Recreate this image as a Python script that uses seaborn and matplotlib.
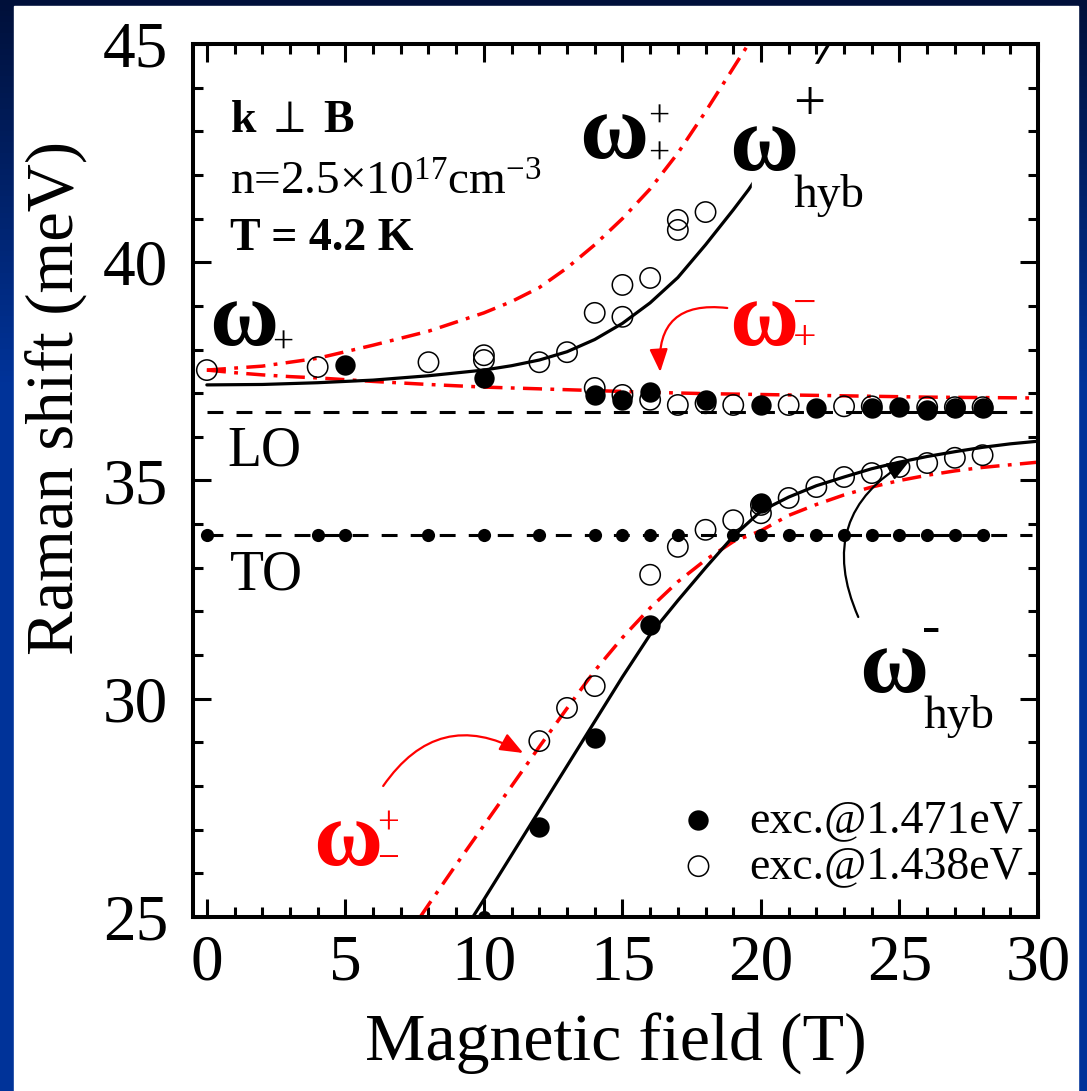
import numpy as np
import matplotlib
matplotlib.use('Agg')
import matplotlib.pyplot as plt
from matplotlib.patches import Rectangle
from matplotlib.ticker import MultipleLocator
import seaborn as sns

# ---- data (field in T, Raman shift in meV) ----
# theory curves
hyb_up_x = [0, 2, 4, 6, 8, 10, 11, 12, 13, 14, 15, 16, 17, 18, 19, 19.55, 20, 21, 22, 22.45]
hyb_up_y = [37.19, 37.2, 37.24, 37.3, 37.4, 37.53, 37.63, 37.76, 37.95, 38.23, 38.6, 39.07,
            39.65, 40.4, 41.2, 41.66, 42.08, 43.1, 44.52, 45.0]
hyb_lo_x = [9.6, 10, 11, 12, 13, 14, 15, 16, 17, 18, 19, 20, 21, 22, 23, 24, 25, 26, 27, 28, 29, 30]
hyb_lo_y = [25.0, 25.4, 26.42, 27.44, 28.46, 29.48, 30.5, 31.47, 32.25, 33.0, 33.72, 34.3,
            34.62, 34.88, 35.08, 35.27, 35.42, 35.55, 35.66, 35.76, 35.84, 35.9]
wpp_x = [0, 2, 4, 6, 8, 10, 11, 12, 13, 14, 15, 16, 17, 18, 19, 19.55]
wpp_y = [37.53, 37.62, 37.8, 38.1, 38.42, 38.84, 39.1, 39.42, 39.87, 40.4, 41.0, 41.68,
         42.5, 43.45, 44.45, 45.0]
wpm_x = [0, 1, 2, 3, 4, 6, 8, 10, 12, 14, 16, 18, 20, 22, 24, 26, 28, 30]
wpm_y = [37.53, 37.47, 37.42, 37.38, 37.35, 37.27, 37.2, 37.14, 37.1, 37.06, 37.02, 36.99,
         36.97, 36.95, 36.93, 36.91, 36.9, 36.89]
wmp_x = [7.7, 8, 9, 10, 11, 12, 13, 14, 15, 16, 17, 18, 19, 20, 21, 22, 23, 24, 25, 26, 27, 28, 29, 30]
wmp_y = [25.0, 25.28, 26.2, 27.1, 28.0, 28.9, 29.78, 30.64, 31.4, 32.08, 32.68, 33.18, 33.6,
         33.85, 34.2, 34.45, 34.67, 34.85, 35.0, 35.12, 35.22, 35.3, 35.36, 35.42]

# phonon lines
lo_x = [0, 29.8]
lo_y = [36.57, 36.57]
to_x = [0, 29.8]
to_y = [33.75, 33.75]
to_dots_x = [0, 4, 5, 8, 10, 12, 14, 15, 16, 17, 19, 20, 21, 22, 23, 24, 25, 26, 27, 28]
to_dots_y = [33.75, 33.75, 33.75, 33.75, 33.75, 33.75, 33.75, 33.75, 33.75, 33.75,
             33.75, 33.75, 33.75, 33.75, 33.75, 33.75, 33.75, 33.75, 33.75, 33.75]
edge_x = [10]
edge_y = [25.0]

# measured points
exc471_x = [5, 10, 14, 15, 16, 18, 20, 22, 24, 25, 26, 27, 28, 12, 14, 16, 20]
exc471_y = [37.65, 37.35, 36.96, 36.85, 37.03, 36.84, 36.73, 36.66, 36.66, 36.68, 36.62,
            36.66, 36.66, 27.06, 29.1, 31.69, 34.48]
exc438_x = [0, 4, 8, 10, 10, 12, 13, 14, 15, 15, 16, 17, 17, 18,
            14, 15, 16, 17, 18, 19, 21, 23, 24, 26, 27, 28,
            12, 13, 14, 16, 17, 18, 19, 20, 20, 21, 22, 23, 24, 25, 26, 27, 28]
exc438_y = [37.53, 37.6, 37.71, 37.87, 37.76, 37.71, 37.94, 38.84, 38.75, 39.48, 39.64, 40.97, 40.74, 41.15,
            37.12, 36.96, 36.85, 36.73, 36.77, 36.73, 36.73, 36.7, 36.7, 36.68, 36.68, 36.68,
            29.03, 29.79, 30.29, 32.84, 33.48, 33.87, 34.09, 34.44, 34.25, 34.6, 34.85, 35.08,
            35.17, 35.31, 35.4, 35.52, 35.58]
labels = ['exc.@1.471eV', 'exc.@1.438eV']

# ---- style ----
sns.set_style('ticks')
plt.rcParams['font.family'] = ['Liberation Serif', 'DejaVu Serif']
plt.rcParams['mathtext.fontset'] = 'custom'
plt.rcParams['mathtext.rm'] = 'Liberation Serif'
plt.rcParams['mathtext.it'] = 'Liberation Serif:italic'
plt.rcParams['mathtext.bf'] = 'Liberation Serif:bold'
plt.rcParams['axes.linewidth'] = 2.9
for key in ['text.color', 'axes.labelcolor', 'xtick.color', 'ytick.color', 'axes.edgecolor']:
    plt.rcParams[key] = 'black'

W, H = 1087, 1091
fig = plt.figure(figsize=(W / 100, H / 100), dpi=100)


def fx(p):
    return p / W


def fy(p):
    return 1 - p / H


# blue slide background with white panel
bg = fig.add_axes([0, 0, 1, 1], zorder=-5)
c_top = np.array([0x00, 0x10, 0x3a]) / 255
c_mid = np.array([0x00, 0x33, 0x99]) / 255
t = np.clip(np.linspace(0, 1, 200) / 0.35, 0, 1)[:, None]
grad = c_top * (1 - t) + c_mid * t
bg.imshow(grad[:, None, :], aspect='auto', extent=[0, 1, 0, 1])
bg.add_patch(Rectangle((fx(14), 0), (1078 - 14) / W, 1 - 6 / H, color='white'))
bg.set_xlim(0, 1)
bg.set_ylim(0, 1)
bg.set_axis_off()

ax = fig.add_axes([fx(193), fy(917), (1038 - 193) / W, (917 - 44) / H])
ax.set_facecolor('white')

red_dd = (0, (5.5, 2.4, 1.1, 2.4))
dash = (0, (5.2, 4.3))

sns.lineplot(x=lo_x, y=lo_y, ax=ax, color='black', lw=2.2, linestyle=dash, estimator=None)
sns.lineplot(x=to_x, y=to_y, ax=ax, color='black', lw=2.2, linestyle=dash, estimator=None)
sns.scatterplot(x=to_dots_x, y=to_dots_y, ax=ax, color='black', s=90, linewidth=0, zorder=3)
sns.scatterplot(x=edge_x, y=edge_y, ax=ax, color='black', s=90, linewidth=0, zorder=3)

sns.lineplot(x=wpp_x, y=wpp_y, ax=ax, color='red', lw=2.5, linestyle=red_dd, estimator=None, sort=False)
sns.lineplot(x=wpm_x, y=wpm_y, ax=ax, color='red', lw=2.5, linestyle=red_dd, estimator=None, sort=False)
sns.lineplot(x=wmp_x, y=wmp_y, ax=ax, color='red', lw=2.5, linestyle=red_dd, estimator=None, sort=False)
sns.lineplot(x=hyb_up_x, y=hyb_up_y, ax=ax, color='black', lw=2.3, estimator=None, sort=False)
sns.lineplot(x=hyb_lo_x, y=hyb_lo_y, ax=ax, color='black', lw=2.3, estimator=None, sort=False)

sns.scatterplot(x=exc471_x, y=exc471_y, ax=ax, color='black', s=215, linewidth=0,
                zorder=4, label=labels[0])
sns.scatterplot(x=exc438_x, y=exc438_y, ax=ax, facecolors='none', edgecolor='black', s=215,
                linewidth=1.1, zorder=4, label=labels[1])

ax.set_xlim(-0.5, 30)
ax.set_ylim(25, 45)
ax.set_xticks(np.arange(0, 31, 5))
ax.set_yticks(np.arange(25, 46, 5))
ax.xaxis.set_minor_locator(MultipleLocator(1))
ax.yaxis.set_minor_locator(MultipleLocator(1))
ax.tick_params(which='both', direction='in', top=True, right=True, width=2.2,
               labelsize=47, color='black', labelcolor='black')
ax.tick_params(which='major', length=13)
ax.tick_params(which='minor', length=7)
ax.tick_params(axis='x', which='major', pad=12)
ax.tick_params(axis='y', which='major', pad=18)
for sp in ax.spines.values():
    sp.set_color('black')
    sp.set_linewidth(2.9)

ax.set_xlabel('Magnetic field (T)', fontsize=49, color='black')
ax.xaxis.set_label_coords(0.5, -0.11)
ax.set_ylabel('Raman shift (meV)', fontsize=48, color='black')
ax.yaxis.set_label_coords(-0.126, 0.594)

ax.legend(loc='lower right', bbox_to_anchor=(0.982, 0.033), frameon=False, fontsize=33,
          handletextpad=0.6, handlelength=1.0, labelspacing=0.08, borderpad=0,
          borderaxespad=0, scatterpoints=1)

# white mask where the hyb+ label sits over its curve
fig.patches.append(Rectangle((fx(752), fy(222)), (870 - 752) / W, (222 - 64) / H,
                             color='white', transform=fig.transFigure, zorder=2))


def txt(px, py, s, size, color='black', weight='normal', ha='left'):
    fig.text(fx(px), fy(py), s, fontsize=size, color=color, fontweight=weight,
             ha=ha, va='baseline', zorder=5)


def sign(px, py, s, size, color='black'):
    # px, py = centre of the sign glyph
    txt(px, py + 0.29 * size / 0.72, s, size, color=color, ha='center')


OM = 68
txt(230, 132, 'k $\\perp$ B', 33, weight='bold')
txt(230, 195, 'n=2.5\u00d710$^{17}$cm$^{\\mathrm{-3}}$', 34)
txt(230, 250, 'T = 4.2 K', 33, weight='bold')
txt(227, 465, 'LO', 40)
txt(230, 590, 'TO', 40)

# omega_+
txt(209, 345, '\u03c9', OM, weight='bold')
sign(283, 342, '+', 27)
# omega_+^+
txt(579, 158, '\u03c9', OM, weight='bold')
sign(659, 116, '+', 27)
sign(659, 153, '+', 27)
# omega_hyb^+
txt(729, 170, '\u03c9', OM, weight='bold')
sign(809, 103, '+', 41)
txt(794, 207, 'hyb', 34)
# omega_+^- (red)
txt(729, 345, '\u03c9', OM, color='red', weight='bold')
sign(805, 303, '\u2212', 30, color='red')
sign(805, 337, '+', 30, color='red')
# omega_hyb^-
txt(859, 692, '\u03c9', OM, weight='bold')
sign(931, 627, '-', 40)
txt(924, 728, 'hyb', 34)
# omega_-^+ (red)
txt(313, 865, '\u03c9', OM, color='red', weight='bold')
sign(388, 822, '+', 28, color='red')
sign(388, 858, '\u2212', 28, color='red')


def d(px, py):
    return ((px - 206.7) / 27.7, 45 - (py - 44) / 43.65)


ax.annotate('', xy=d(660, 372), xytext=d(727, 308),
            arrowprops=dict(arrowstyle='-|>,head_length=0.7,head_width=0.28', color='red',
                            lw=1.6, connectionstyle='arc3,rad=0.6', shrinkA=0, shrinkB=0,
                            mutation_scale=20))
ax.annotate('', xy=d(910, 460), xytext=d(858, 617),
            arrowprops=dict(arrowstyle='-|>,head_length=0.7,head_width=0.28', color='black',
                            lw=1.6, connectionstyle='arc3,rad=-0.45', shrinkA=0, shrinkB=0,
                            mutation_scale=20))
ax.annotate('', xy=d(523, 753), xytext=d(383, 786),
            arrowprops=dict(arrowstyle='-|>,head_length=0.7,head_width=0.28', color='red',
                            lw=1.6, connectionstyle='arc3,rad=-0.45', shrinkA=0, shrinkB=0,
                            mutation_scale=20))

fig.savefig('out.png', dpi=100)
